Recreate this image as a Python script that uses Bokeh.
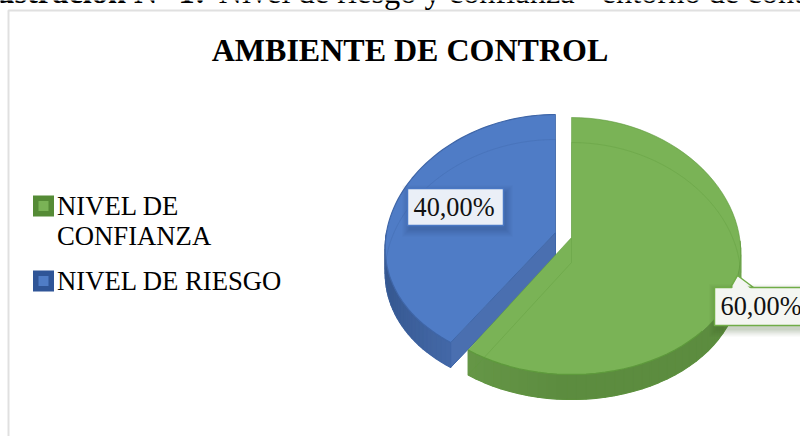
import numpy as np
from bokeh.plotting import figure
from bokeh.embed import file_html
from bokeh.resources import INLINE
from bokeh.core.properties import value
from bokeh.models import Range1d

TITLE = "AMBIENTE DE CONTROL"
HEAD_B = "Ilustración N° 1:"
HEAD_R = "Nivel de riesgo y confianza - entorno de control"
CATS = ["NIVEL DE CONFIANZA", "NIVEL DE RIESGO"]
LEGEND = [["NIVEL DE", "CONFIANZA"], ["NIVEL DE RIESGO"]]
VALUES = [60.0, 40.0]
LABELS = ["60,00%", "40,00%"]

W, H = 800, 436
p = figure(width=W, height=H, x_range=Range1d(0, W), y_range=Range1d(H, 0),
           output_backend="svg", toolbar_location=None, min_border=0,
           outline_line_color=None, background_fill_color="white", border_fill_color="white")
p.axis.visible = False
p.grid.visible = False
p.styles = {"position": "absolute", "left": "0px", "top": "0px"}

FONT = value("Liberation Serif")

# frame lines
p.line([8, 8, W], [H, 10, 10], line_color="#E0E0E0", line_width=2)

# header (clipped by the top of the page)
HEAD_Y = -9
p.text([205], [HEAD_Y], text=[HEAD_B], text_font=FONT, text_font_size="32.4px", text_font_style="bold",
       text_color="black", text_baseline="alphabetic", text_align="right")
p.text([218], [HEAD_Y], text=[HEAD_R], text_font=FONT, text_font_size="32.4px",
       text_color="black", text_baseline="alphabetic")

p.text([409.5], [49], text=[TITLE], text_font=FONT, text_font_size="32px", text_font_style="bold",
       text_color="black", text_align="center", text_baseline="middle")

DEPTH = 25
shares = np.cumsum([0] + VALUES) / sum(VALUES) * 360
geo = [
    dict(cx=571, cy=245.5, rx=169, ry=128.5, k=0.05, ax=571, ay=237, top="#7AB356", edge="#5E9A3C",
         wall0="#7AAD58", wall1="#5C8C3F", cut="#6FA44E"),
    dict(cx=555, cy=240, rx=170, ry=126, k=0.06, ax=555, ay=232, top="#4F7CC6", edge="#3F66A8",
         wall0="#35578F", wall1="#4A70B2", cut="#4A6FB0"),
]

def rim(g, a0, a1, n=70):
    t = np.radians(np.linspace(a0, a1, n))
    return g["cx"] + g["rx"] * np.sin(t) * (1 - g["k"] * np.cos(t)), g["cy"] - g["ry"] * np.cos(t)

def mix(c0, c1, f):
    a = [int(c0[i:i+2], 16) for i in (1, 3, 5)]
    b = [int(c1[i:i+2], 16) for i in (1, 3, 5)]
    return "#%02x%02x%02x" % tuple(int(round(a[i] + (b[i] - a[i]) * f)) for i in range(3))

for i in (1, 0):
    g = geo[i]
    a0, a1 = shares[i], shares[i + 1]
    x, y = rim(g, a0, a1)
    angs = np.linspace(a0, a1, len(x))
    vis = np.cos(np.radians(angs)) < 0.05
    p.patch(np.r_[x[vis], x[vis][::-1]], np.r_[y[vis], y[vis][::-1] + DEPTH],
            fill_color=g["wall1"], line_color=None)
    for k in range(len(x) - 1):
        if not vis[k]:
            continue
        s = np.sin(np.radians(angs[k]))
        if i == 0:
            f = max(0.0, s - 0.88) / 0.12 * 0.9 + max(0.0, -s) * 0.55
            col = mix(g["wall1"], g["wall0"], min(f, 1))
        else:
            col = mix(g["wall1"], g["wall0"], abs(s) ** 2)
        p.patch([x[k], x[k + 1], x[k + 1], x[k]],
                [y[k], y[k + 1], y[k + 1] + DEPTH, y[k] + DEPTH],
                fill_color=col, line_color=col, line_width=1.2)
    if i == 1:
        p.patch([x[0], g["ax"], g["ax"], x[0]],
                [y[0], g["ay"], g["ay"] + DEPTH, y[0] + DEPTH],
                fill_color=g["cut"], line_color=g["edge"], line_width=1)
    p.patch(np.r_[g["ax"], x], np.r_[g["ay"], y], fill_color=g["top"],
            line_color=None)
    front = (angs > 130) & (angs < 300) if i == 0 else angs > 0
    p.line(x[front], y[front], line_color=g["edge"], line_width=1.2)
    p.line([x[0], g["ax"], x[-1]], [y[0], g["ay"], y[-1]], line_color=g["edge"], line_width=1,
           line_alpha=0.8 if i == 1 else 0.5)
    if i == 0:
        p.line(x[~front], y[~front], line_color=g["edge"], line_width=1, line_alpha=0.6)
    p.line(np.r_[x, g["ax"], x[0]], np.r_[y, g["ay"], y[0]] + DEPTH,
           line_color=g["edge"], line_width=1, line_alpha=0.35)

# legend
MARK = [("#558B36", "#7AB356"), ("#2F5597", "#4F7CC6")]
leg_y = [205, 280]
for m, t, ly in zip(MARK, LEGEND, leg_y):
    p.scatter([43], [ly + 0.5], size=21, marker="square", fill_color=m[0], line_color=None)
    p.scatter([43], [ly + 0.5], size=10, marker="square", fill_color=m[1], line_color=None)
    for j, s in enumerate(t):
        p.text([56.5], [ly + j * 30], text=[s], text_font=FONT, text_font_size="26.7px",
               text_color="black", text_baseline="middle")

# data labels
def label(x0, x1, y0, y1, txt, fill, edge, shadow):
    for grow, alpha in ((7, 0.05), (5, 0.06), (3, 0.08), (1, 0.09)):
        p.quad(left=[x0 + 2 - grow], right=[x1 + 2 + grow], top=[y0 + 4 - grow], bottom=[y1 + 4 + grow],
               fill_color=shadow, fill_alpha=alpha, line_color=None)
    p.quad(left=[x0], right=[x1], top=[y0], bottom=[y1], fill_color=fill, line_color=edge, line_width=1.5)
    p.text([x0 + 6], [(y0 + y1) / 2], text=[txt], text_font=FONT, text_font_size="26.3px",
           text_color="#111111", text_baseline="middle")

label(407, 503, 188, 225, LABELS[1], "#EAEFF7", "#4A78C4", "#1F3864")
p.patch([730, 737, 753], [287, 275, 287], fill_color="#F4F6F2", line_color="#70AD47", line_width=1.5)
label(714, 815, 287, 325, LABELS[0], "#F4F6F2", "#70AD47", "#385723")
p.patch([731, 737, 751], [289, 277, 289], fill_color="#F4F6F2", line_color=None)

open("out.html", "w").write(file_html(p, INLINE))
